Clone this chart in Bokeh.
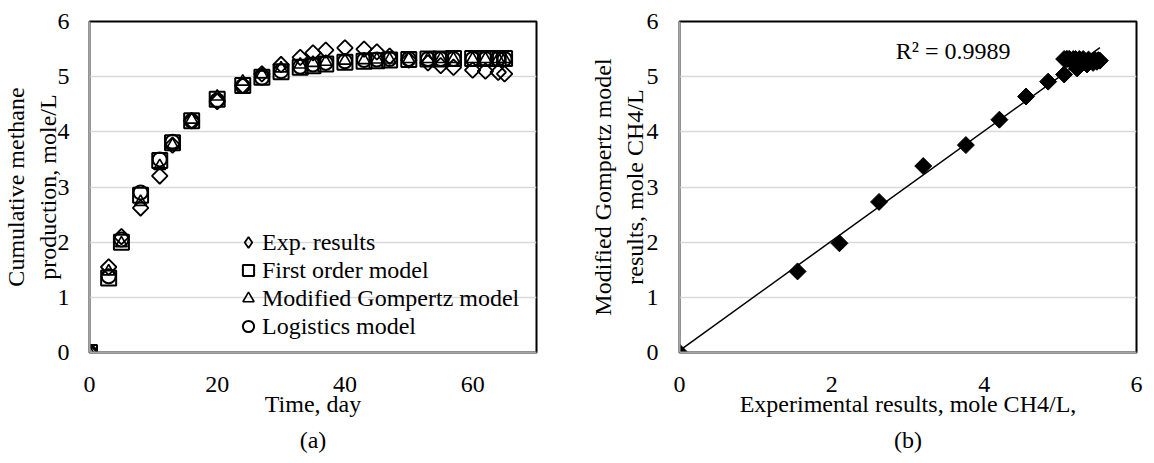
import numpy as np
from bokeh.plotting import figure
from bokeh.layouts import row
from bokeh.models import FixedTicker, Legend, LegendItem, Label, Title, ColumnDataSource
from bokeh.embed import file_html
from bokeh.resources import INLINE

# ---------------- data ----------------
days = [0, 3, 5, 8, 11, 13, 16, 20, 24, 27, 30, 33, 35, 37, 40, 43, 45, 47, 50, 53, 55, 57, 60, 62, 64, 65]
exp_results = [0, 1.55, 2.10, 2.62, 3.20, 3.76, 4.20, 4.55, 4.84, 5.05, 5.22, 5.35, 5.43, 5.48, 5.52, 5.50,
               5.45, 5.37, 5.30, 5.25, 5.20, 5.17, 5.12, 5.10, 5.08, 5.05]
first_order = [0, 1.35, 2.00, 2.85, 3.48, 3.80, 4.20, 4.59, 4.84, 4.99, 5.09, 5.17, 5.20, 5.23, 5.26, 5.28,
               5.29, 5.30, 5.31, 5.32, 5.32, 5.33, 5.33, 5.33, 5.33, 5.33]
gompertz = [0, 1.47, 1.98, 2.73, 3.38, 3.76, 4.22, 4.64, 4.91, 5.04, 5.15, 5.22, 5.25, 5.27, 5.29, 5.30,
            5.31, 5.31, 5.32, 5.32, 5.32, 5.32, 5.32, 5.32, 5.32, 5.32]
logistics = [0, 1.38, 2.05, 2.90, 3.50, 3.82, 4.20, 4.57, 4.83, 4.98, 5.10, 5.18, 5.22, 5.25, 5.28, 5.30,
             5.31, 5.32, 5.32, 5.32, 5.32, 5.32, 5.32, 5.32, 5.32, 5.32]

series_names = ["Exp. results", "First order model", "Modified Gompertz model", "Logistics model"]
x_ticks_a = [0, 20, 40, 60]
x_ticks_b = [0, 2, 4, 6]
y_ticks = [0, 1, 2, 3, 4, 5, 6]
r2_text = "R\u00b2 = 0.9989"

FONT = "Liberation Serif"
FS = "24px"
AXIS_GRAY = "#a6a6a6"
GRID_GRAY = "#d9d9d9"


def style(p, xticks, xlabel, ylabel, sub, ystand, ylab_stand):
    p.xgrid.grid_line_color = None
    p.ygrid.grid_line_color = GRID_GRAY
    p.ygrid.grid_line_width = 1.5
    p.outline_line_color = "black"
    p.outline_line_width = 2
    p.background_fill_color = "white"
    p.border_fill_color = "white"
    p.xaxis.ticker = FixedTicker(ticks=xticks)
    p.yaxis.ticker = FixedTicker(ticks=y_ticks)
    for ax in (p.xaxis[0], p.yaxis[0]):
        ax.axis_line_color = AXIS_GRAY
        ax.axis_line_width = 2
        ax.major_tick_line_color = None
        ax.minor_tick_line_color = None
        ax.major_tick_out = 0
        ax.major_tick_in = 0
        ax.major_label_text_font = FONT
        ax.major_label_text_font_size = FS
        ax.major_label_text_color = "black"
        ax.axis_label_text_font = FONT
        ax.axis_label_text_font_size = FS
        ax.axis_label_text_font_style = "normal"
        ax.axis_label_text_color = "black"
    p.xaxis.major_label_standoff = 24
    p.yaxis.major_label_standoff = ystand
    p.xaxis.axis_label = xlabel
    p.yaxis.axis_label = ylabel
    p.xaxis.axis_label_standoff = -4
    p.yaxis.axis_label_standoff = ylab_stand
    t = Title(text=sub, align="center", text_font=FONT, text_font_size=FS,
              text_font_style="normal", text_color="black")
    p.add_layout(t, "below")


# ---------------- (a) ----------------
pa = figure(width=577, height=463, x_range=(0, 70), y_range=(0, 6),
            output_backend="svg", toolbar_location=None,
            min_border_left=89, min_border_right=41, min_border_top=21, min_border_bottom=106)
style(pa, x_ticks_a, "Time, day", "Cumulative methane\nproduction, mole/L", "(a)", 20, -6)

src = ColumnDataSource(dict(d=days, e=exp_results, f=first_order, g=gompertz, l=logistics))
r_exp = pa.scatter("d", "e", source=src, marker="square", angle=np.pi / 4, size=11,
                   fill_color=None, line_color="black", line_width=1.8)
r_fo = pa.scatter("d", "f", source=src, marker="square", size=15,
                  fill_color=None, line_color="black", line_width=2)
r_gm = pa.scatter("d", "g", source=src, marker="triangle", size=12,
                  fill_color=None, line_color="black", line_width=1.6)
r_lg = pa.scatter("d", "l", source=src, marker="circle", size=14,
                  fill_color=None, line_color="black", line_width=2)

# legend proxy for the diamond symbol (draws nothing in the plot area)
r_exp_key = pa.scatter(x=[np.nan], y=[np.nan], marker="diamond", size=14,
                       fill_color=None, line_color="black", line_width=1.8)

legend = Legend(items=[
    LegendItem(label=series_names[0], renderers=[r_exp_key]),
    LegendItem(label=series_names[1], renderers=[r_fo]),
    LegendItem(label=series_names[2], renderers=[r_gm]),
    LegendItem(label=series_names[3], renderers=[r_lg]),
], location=(145, 12))
legend.label_text_font = FONT
legend.label_text_font_size = FS
legend.label_text_color = "black"
legend.glyph_width = 28
legend.glyph_height = 28
legend.label_height = 28
legend.label_standoff = 0
legend.spacing = 0
legend.padding = 0
legend.margin = 0
legend.border_line_color = None
legend.background_fill_alpha = 0
pa.add_layout(legend)

# ---------------- (b) ----------------
pb = figure(width=577, height=463, x_range=(0, 6), y_range=(0, 6),
            output_backend="svg", toolbar_location=None,
            min_border_left=102, min_border_right=18, min_border_top=21, min_border_bottom=111)
style(pb, x_ticks_b, "Experimental results, mole CH4/L,", "Modified Gompertz model\nresults, mole CH4/L", "(b)", 21, -4)

ex = np.array(exp_results)
gm = np.array(gompertz)
slope, intercept = np.polyfit(ex, gm, 1)
xs = np.array([ex.min(), ex.max()])
pb.line(xs, slope * xs + intercept, line_color="black", line_width=1.5)
pb.scatter(exp_results, gompertz, marker="square", angle=np.pi / 4, size=12,
           fill_color="black", line_color="black")
pb.add_layout(Label(x=2.84, y=5.47, text=r2_text, text_font=FONT, text_font_size=FS,
                    text_color="black", text_baseline="middle", text_align="left"))

layout = row(pa, pb)
open("out.html", "w").write(file_html(layout, INLINE))
